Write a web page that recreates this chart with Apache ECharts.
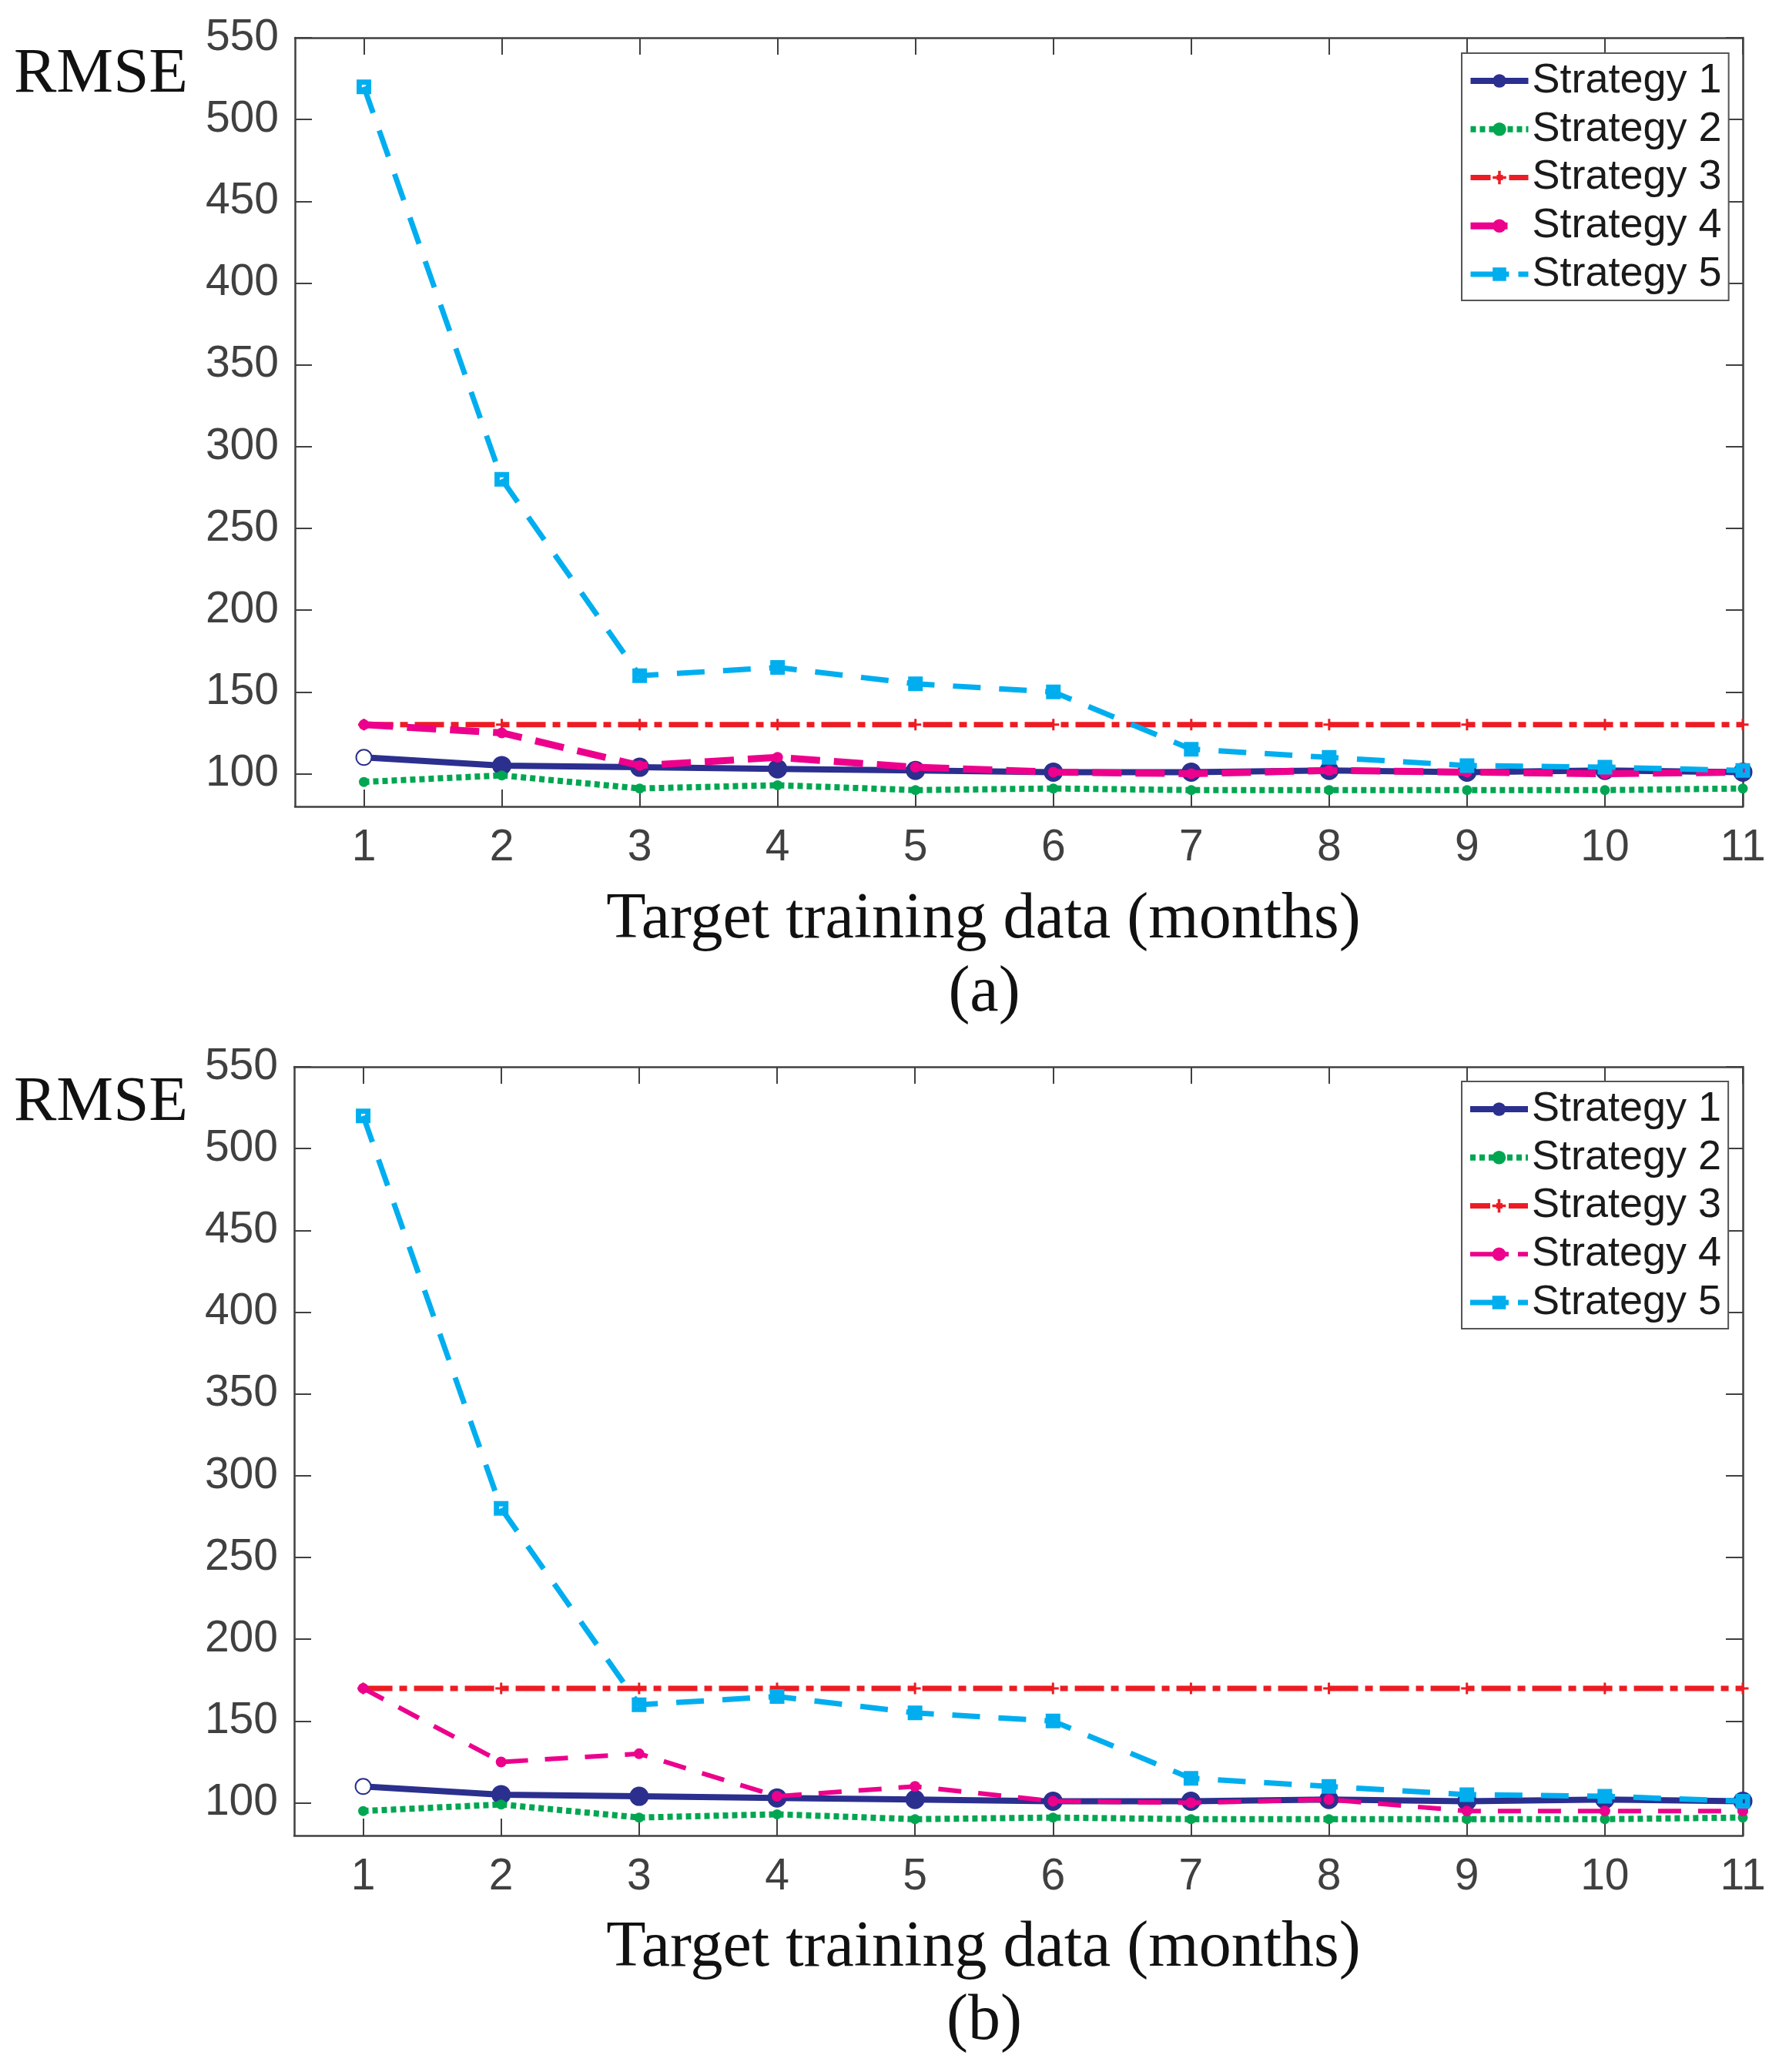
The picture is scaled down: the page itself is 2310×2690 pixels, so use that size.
<!DOCTYPE html>
<html><head><meta charset="utf-8">
<script src="https://cdn.jsdelivr.net/npm/echarts@6/dist/echarts.min.js"></script>
<style>html,body{margin:0;padding:0;background:#fff}#c{width:2310px;height:2690px}</style>
</head><body><div id="c"></div>
<script>
// ---- data ----
const months = [1, 2, 3, 4, 5, 6, 7, 8, 9, 10, 11];
const yTicks = [100, 150, 200, 250, 300, 350, 400, 450, 500, 550];
const seriesNames = ['Strategy 1', 'Strategy 2', 'Strategy 3', 'Strategy 4', 'Strategy 5'];
const panelLabels = ['(a)', '(b)'];
const xTitle = 'Target training data (months)';
const yTitle = 'RMSE';

// panel (a)
const a_s1 = [110, 105, 104, 103, 102, 101, 101, 102, 101, 102, 101];
const a_s2 = [95, 99, 91, 93, 90, 91, 90, 90, 90, 90, 91];
const a_s3 = [130, 130, 130, 130, 130, 130, 130, 130, 130, 130, 130];
const a_s4 = [130, 125, 105, 110, 104, 101, 100, 102, 101, 100, 101];
const a_s5 = [520, 280, 160, 165, 155, 150, 115, 110, 105, 104, 102];
// panel (b)
const b_s1 = [110, 105, 104, 103, 102, 101, 101, 102, 101, 102, 101];
const b_s2 = [95, 99, 91, 93, 90, 91, 90, 90, 90, 90, 91];
const b_s3 = [170, 170, 170, 170, 170, 170, 170, 170, 170, 170, 170];
const b_s4 = [170, 125, 130, 104, 110, 101, 100, 102, 95, 95, 95];
const b_s5 = [520, 280, 160, 165, 155, 150, 115, 110, 105, 104, 101];

const panels = [[a_s1, a_s2, a_s3, a_s4, a_s5], [b_s1, b_s2, b_s3, b_s4, b_s5]];

// ---- layout / styles ----
const grids = [
  { left: 383, top: 49, width: 1880, height: 998 },
  { left: 382, top: 1385, width: 1881, height: 998 }
];
const legendTops = [69, 1404];
const rmseY = [104, 1439];
const xTitleY = [1195, 2530];
const panelLabelY = [1290, 2625];

const SANS = '"Liberation Sans", Arial, sans-serif';
const SERIF = '"Liberation Serif", "Times New Roman", serif';
const AX = '#404040';
const plusPath = 'path://M4,0h2v4h4v2h-4v4h-2v-4h-4v-2h4z';
const sqRingPath = 'path://M0,0H10V10H0Z M3.6,3.6V6.4H6.4V3.6Z';

function styleFor(i, p) {
  const st = [
    { color: '#2b2f8e', width: 8, type: 'solid', symbol: 'circle', size: 20, ltype: 'solid' },
    { color: '#00a651', width: 8, type: [7, 5], symbol: 'circle', size: 13, ltype: [7, 5] },
    { color: '#ed1c24', width: 7, type: [38, 9, 10, 9], symbol: plusPath, size: 15, ltype: [26, 8, 8, 8] },
    { color: '#ec008c', width: p === 0 ? 9 : 6, type: p === 0 ? [38, 18] : [30, 22], symbol: 'circle', size: 14, ltype: p === 0 ? [48, 40] : [50, 12, 20, 10] },
    { color: '#00aeef', width: 7, type: [36, 24], symbol: sqRingPath, size: 19, ltype: [50, 12, 20, 10] }
  ];
  return st[i];
}

const xAxes = [], yAxes = [], series = [], legends = [], graphics = [];
for (let p = 0; p < 2; p++) {
  const commonX = {
    type: 'value', gridIndex: p, min: 0.5, max: 11,
    axisLine: { show: true, onZero: false, lineStyle: { color: AX, width: 2.5 } },
    axisTick: { show: true, inside: true, length: 22, customValues: months, lineStyle: { color: AX, width: 2 } },
    splitLine: { show: false }
  };
  xAxes.push(Object.assign({}, commonX, {
    position: 'bottom',
    axisLabel: { show: true, customValues: months, margin: 26, fontSize: 57, color: AX, fontFamily: SANS }
  }));
  xAxes.push(Object.assign({}, commonX, { position: 'top', axisLabel: { show: false } }));
  const commonY = {
    type: 'value', gridIndex: p, min: 80, max: 550,
    axisLine: { show: true, onZero: false, lineStyle: { color: AX, width: 2.5 } },
    axisTick: { show: true, inside: true, length: 22, customValues: yTicks, lineStyle: { color: AX, width: 2 } },
    splitLine: { show: false }
  };
  yAxes.push(Object.assign({}, commonY, {
    position: 'left',
    axisLabel: { show: true, customValues: yTicks, margin: 21, fontSize: 57, color: AX, fontFamily: SANS }
  }));
  yAxes.push(Object.assign({}, commonY, { position: 'right', axisLabel: { show: false } }));

  const legendData = [];
  panels[p].forEach((vals, i) => {
    const s = styleFor(i, p);
    const data = months.map((m, k) => {
      const item = { value: [m, vals[k]] };
      if (i === 0 && k === 0) item.symbol = 'emptyCircle';
      return item;
    });
    series.push({
      type: 'line', name: seriesNames[i],
      xAxisIndex: p * 2, yAxisIndex: p * 2,
      data: data,
      symbol: s.symbol, symbolSize: s.size,
      lineStyle: { color: s.color, width: s.width, type: s.type, cap: 'butt' },
      itemStyle: { color: s.color, borderColor: s.color, borderWidth: i === 0 ? 5 : 0 },
      z: 2 + i,
      legendHoverLink: false
    });
    legendData.push({
      name: seriesNames[i],
      lineStyle: { color: s.color, width: s.width, type: s.ltype, cap: 'butt' },
      itemStyle: { color: s.color, borderWidth: 0 }
    });
  });

  legends.push({
    show: true,
    orient: 'vertical',
    left: 1898, top: legendTops[p],
    data: legendData,
    itemWidth: 75, itemHeight: 22, itemGap: 4.75,
    padding: [7, 9, 5, 7],
    borderColor: '#555', borderWidth: 2, backgroundColor: '#fff',
    textStyle: { fontSize: 54, lineHeight: 58, color: '#1a1a1a', fontFamily: SANS },
    selectedMode: false
  });

  graphics.push({
    type: 'text', left: 18, top: rmseY[p] - 48,
    style: { text: yTitle, font: '83px ' + SERIF, fill: '#111' }
  });
  graphics.push({
    type: 'text', x: 1277, y: xTitleY[p],
    style: { text: xTitle, font: '84px ' + SERIF, fill: '#111', textAlign: 'center', textVerticalAlign: 'middle' }
  });
  graphics.push({
    type: 'text', x: 1278, y: panelLabelY[p],
    style: { text: panelLabels[p], font: '84px ' + SERIF, fill: '#111', textAlign: 'center', textVerticalAlign: 'middle' }
  });
}

const chart = echarts.init(document.getElementById('c'), null, { renderer: 'canvas' });
chart.setOption({
  backgroundColor: '#fff',
  animation: false,
  grid: grids,
  xAxis: xAxes,
  yAxis: yAxes,
  legend: legends,
  series: series,
  graphic: graphics
});
</script></body></html>
